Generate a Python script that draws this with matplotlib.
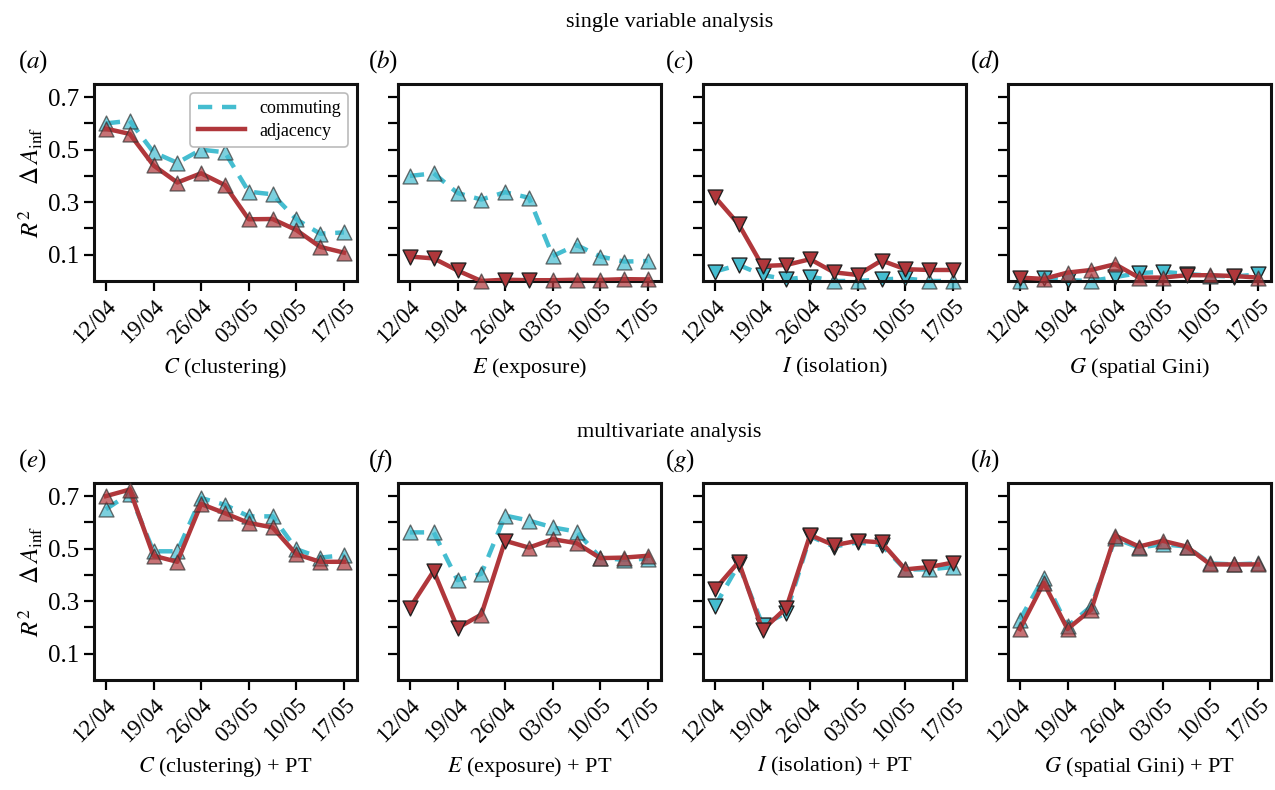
import matplotlib
matplotlib.use("Agg")
import matplotlib.pyplot as plt
import numpy as np

plt.rcParams["font.family"] = ["Liberation Serif", "DejaVu Serif"]
plt.rcParams["mathtext.fontset"] = "stix"

# 11 half-weekly points from 12/04 to 17/05
dates = ["12/04", "", "19/04", "", "26/04", "", "03/05", "", "10/05", "", "17/05"]
tick_labels = ["12/04", "19/04", "26/04", "03/05", "10/05", "17/05"]

# R^2 values, commuting network (dashed) and adjacency network (solid)
# sign arrays: +1 marker up, -1 marker down
comm_C = [0.60, 0.61, 0.49, 0.45, 0.50, 0.49, 0.34, 0.33, 0.235, 0.18, 0.185]
comm_C_sign = [1, 1, 1, 1, 1, 1, 1, 1, 1, 1, 1]
adj_C = [0.58, 0.56, 0.44, 0.375, 0.41, 0.365, 0.235, 0.236, 0.194, 0.13, 0.108]
adj_C_sign = [1, 1, 1, 1, 1, 1, 1, 1, 1, 1, 1]

comm_E = [0.40, 0.41, 0.335, 0.31, 0.338, 0.317, 0.095, 0.137, 0.093, 0.074, 0.076]
comm_E_sign = [1, 1, 1, 1, 1, 1, 1, 1, 1, 1, 1]
adj_E = [0.093, 0.086, 0.04, 0.0, 0.005, 0.003, 0.003, 0.005, 0.004, 0.007, 0.006]
adj_E_sign = [-1, -1, -1, 1, -1, -1, 1, 1, 1, 1, 1]

comm_I = [0.036, 0.061, 0.023, 0.006, 0.017, 0.0, 0.0, 0.006, 0.01, 0.0, 0.0]
comm_I_sign = [-1, -1, -1, -1, -1, 1, 1, -1, -1, 1, 1]
adj_I = [0.32, 0.216, 0.057, 0.061, 0.083, 0.033, 0.023, 0.078, 0.045, 0.042, 0.042]
adj_I_sign = [-1, -1, -1, -1, -1, -1, -1, -1, -1, -1, -1]

comm_G = [0.0, 0.013, 0.003, 0.0, 0.015, 0.03, 0.035, 0.027, 0.02, 0.017, 0.025]
comm_G_sign = [1, -1, -1, 1, -1, -1, -1, -1, 1, -1, -1]
adj_G = [0.013, 0.008, 0.032, 0.042, 0.064, 0.013, 0.013, 0.022, 0.022, 0.019, 0.013]
adj_G_sign = [-1, 1, 1, 1, 1, 1, 1, -1, 1, -1, 1]

comm_CP = [0.65, 0.71, 0.49, 0.49, 0.693, 0.667, 0.623, 0.623, 0.498, 0.466, 0.475]
comm_CP_sign = [1, 1, 1, 1, 1, 1, 1, 1, 1, 1, 1]
adj_CP = [0.70, 0.725, 0.473, 0.45, 0.67, 0.635, 0.598, 0.581, 0.479, 0.45, 0.45]
adj_CP_sign = [1, 1, 1, 1, 1, 1, 1, 1, 1, 1, 1]

comm_EP = [0.562, 0.562, 0.38, 0.404, 0.626, 0.607, 0.581, 0.565, 0.466, 0.457, 0.462]
comm_EP_sign = [1, 1, 1, 1, 1, 1, 1, 1, 1, 1, 1]
adj_EP = [0.275, 0.415, 0.198, 0.249, 0.53, 0.504, 0.536, 0.521, 0.464, 0.466, 0.473]
adj_EP_sign = [-1, -1, -1, 1, -1, 1, 1, 1, 1, 1, 1]

comm_IP = [0.281, 0.44, 0.21, 0.255, 0.547, 0.508, 0.524, 0.513, 0.421, 0.421, 0.43]
comm_IP_sign = [-1, -1, -1, -1, -1, -1, -1, -1, 1, 1, 1]
adj_IP = [0.345, 0.45, 0.19, 0.275, 0.552, 0.513, 0.53, 0.524, 0.421, 0.43, 0.447]
adj_IP_sign = [-1, -1, -1, -1, -1, -1, -1, -1, 1, -1, -1]

comm_GP = [0.23, 0.39, 0.204, 0.281, 0.539, 0.504, 0.517, 0.508, 0.444, 0.44, 0.444]
comm_GP_sign = [1, 1, 1, 1, 1, 1, 1, 1, 1, 1, 1]
adj_GP = [0.194, 0.37, 0.194, 0.268, 0.55, 0.508, 0.53, 0.508, 0.44, 0.44, 0.44]
adj_GP_sign = [1, 1, 1, 1, 1, 1, 1, 1, 1, 1, 1]

panels = [
    ("a", r"$C$ (clustering)", comm_C, comm_C_sign, adj_C, adj_C_sign),
    ("b", r"$E$ (exposure)", comm_E, comm_E_sign, adj_E, adj_E_sign),
    ("c", r"$I$ (isolation)", comm_I, comm_I_sign, adj_I, adj_I_sign),
    ("d", r"$G$ (spatial Gini)", comm_G, comm_G_sign, adj_G, adj_G_sign),
    ("e", r"$C$ (clustering) + PT", comm_CP, comm_CP_sign, adj_CP, adj_CP_sign),
    ("f", r"$E$ (exposure) + PT", comm_EP, comm_EP_sign, adj_EP, adj_EP_sign),
    ("g", r"$I$ (isolation) + PT", comm_IP, comm_IP_sign, adj_IP, adj_IP_sign),
    ("h", r"$G$ (spatial Gini) + PT", comm_GP, comm_GP_sign, adj_GP, adj_GP_sign),
]

cyan = "#45BDD0"
red = "#B0373B"

fig = plt.figure(figsize=(12.75, 7.9), dpi=100)
W, H = 1275, 790
lefts = [94, 398, 703, 1008]
tops = [84, 483]
aw, ah = 263, 197
label_x = [18, 368, 665, 970]

x = np.arange(len(dates))

for i, (tag, xlab, comm, csign, adj, asign) in enumerate(panels):
    row, col = divmod(i, 4)
    ax = fig.add_axes([lefts[col] / W, 1 - (tops[row] + ah) / H, aw / W, ah / H])

    for vals, sign, color, ls, z in [(comm, csign, cyan, "--", 2), (adj, asign, red, "-", 3)]:
        vals = np.array(vals)
        sign = np.array(sign)
        line, = ax.plot(x, vals, ls, color=color, lw=3.2, zorder=z,
                        label="commuting" if ls == "--" else "adjacency")
        if ls == "--":
            line.set_dashes((3.2, 2.2))
        up = sign > 0
        ax.scatter(x[up], vals[up], marker="^", s=115, facecolor=color, alpha=0.7,
                   edgecolor="#333333", linewidth=1.0, zorder=z + 0.5, clip_on=False)
        ax.scatter(x[~up], vals[~up], marker="v", s=115, facecolor=color,
                   edgecolor="#222222", linewidth=1.0, zorder=z + 0.5, clip_on=False)

    ax.set_xlim(-0.5, 10.55)
    ax.set_ylim(0, 0.75)
    ax.set_xticks(x[::2])
    ax.set_xticklabels(tick_labels, rotation=45, ha="right", rotation_mode="anchor", fontsize=16.5)
    ax.set_yticks([0.1, 0.2, 0.3, 0.4, 0.5, 0.6, 0.7])
    if col == 0:
        ax.set_yticklabels(["0.1", "", "0.3", "", "0.5", "", "0.7"], fontsize=18)
        ax.set_ylabel(r"$R^2$    $\Delta\,A_{\rm inf}$", fontsize=18)
        ax.yaxis.set_label_coords(-0.185, 0.5)
    else:
        ax.set_yticklabels([])
    ax.tick_params(direction="out", length=7.5, width=1.6, top=False, right=False, pad=3)
    for sp in ax.spines.values():
        sp.set_linewidth(2.2)
        sp.set_color("#111111")
    ax.set_xlabel(xlab, fontsize=16, va="center")
    ax.xaxis.set_label_coords(0.5, -0.44)

    fig.text(label_x[col] / W, 1 - (tops[row] - 22) / H, "($%s$)" % tag,
             fontsize=18, va="center", ha="left")

    if tag == "a":
        leg = ax.legend(loc="upper right", fontsize=13, handlelength=2.6,
                        borderpad=0.4, labelspacing=0.3, framealpha=1, fancybox=True)
        leg.get_frame().set_edgecolor("#BBBBBB")
        leg.get_frame().set_linewidth(1.2)

fig.text(0.525, 1 - 22 / H, "single variable analysis", fontsize=16, ha="center", va="center")
fig.text(0.525, 1 - 433 / H, "multivariate analysis", fontsize=16, ha="center", va="center")

fig.savefig("out.png", dpi=100)
